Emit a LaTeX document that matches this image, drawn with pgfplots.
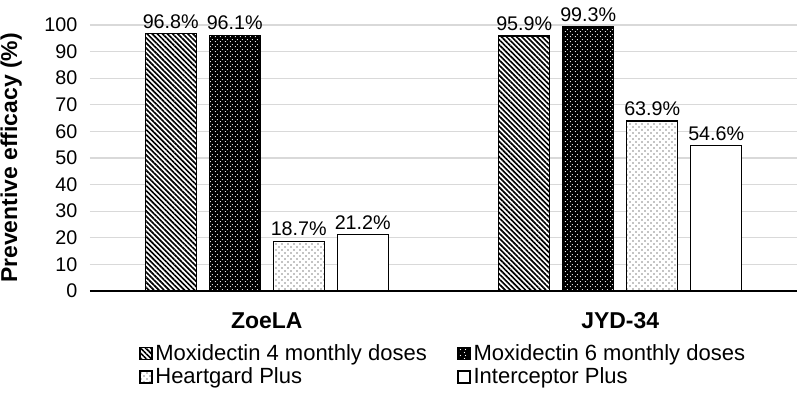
\documentclass[border=0pt]{standalone}
\usepackage{fontspec}
\setmainfont{Liberation Sans}
\usepackage{pgfplots}
\pgfplotsset{compat=1.18}
\usetikzlibrary{patterns.meta}

\newcommand{\tickfont}{\fontsize{14.8}{17}\selectfont}
\newcommand{\bigfont}{\fontsize{16.5}{19}\selectfont}
\newcommand{\labfont}{\fontsize{17.2}{20}\selectfont}

\begin{document}
\begin{tikzpicture}
\begin{axis}[
  scale only axis,
  width=530.25pt, height=199.5pt,
  ybar=9.75pt, bar width=38.25pt,
  xmin=-0.5, xmax=1.5,
  ymin=0, ymax=100,
  xtick={0,1}, xticklabels={ZoeLA, JYD-34},
  ytick={0,10,...,100},
  axis x line*=bottom, axis y line*=left,
  y axis line style={draw=none},
  x axis line style={black, line width=0.9pt, -},
  major tick length=0pt,
  ymajorgrids,
  grid style={color=black!15, line width=0.9pt},
  /pgf/number format/assume math mode=true,
  yticklabel style={font=\tickfont, xshift=-6pt},
  xticklabel style={font=\labfont\bfseries, yshift=-12.75pt},
  ylabel={Preventive efficacy (\%)},
  ylabel style={font=\labfont\bfseries},
  ylabel shift=10pt,
  nodes near coords={\pgfmathprintnumber[fixed,precision=1,fixed zerofill]{\pgfplotspointmeta}\%},
  nodes near coords style={font=\tickfont, black},
  legend columns=2,
  legend cell align=left,
  legend style={at={(0.5,0)}, anchor=north, yshift=-36pt, draw=none, font=\bigfont,
    /tikz/every even column/.append style={column sep=21pt}},
  legend image code/.code={\draw[#1] (0pt,-4.5pt) rectangle (9pt,4.5pt);},
  clip=false,
]
\addplot[draw=black, line width=1.1pt, fill=white,
  postaction={pattern={Lines[angle=-45, distance=2.7pt, line width=1.25pt]}, pattern color=black}]
  coordinates {(0,96.8) (1,95.9)};
\addplot[draw=black, line width=1.1pt, fill=black,
  postaction={pattern={Dots[distance=4pt, radius=0.5pt]}, pattern color=white},
  postaction={pattern={Dots[distance=4pt, radius=0.5pt, xshift=2pt, yshift=2pt]}, pattern color=white}]
  coordinates {(0,96.1) (1,99.3)};
\addplot[draw=black, line width=1.1pt, fill=white,
  postaction={pattern={Dots[distance=4.5pt, radius=0.45pt]}, pattern color=black},
  postaction={pattern={Dots[distance=4.5pt, radius=0.45pt, xshift=2.25pt, yshift=2.25pt]}, pattern color=black}]
  coordinates {(0,18.7) (1,63.9)};
\addplot[draw=black, line width=1.1pt, fill=white]
  coordinates {(0,21.2) (1,54.6)};
\legend{Moxidectin 4 monthly doses, Moxidectin 6 monthly doses, Heartgard Plus, Interceptor Plus}
\end{axis}
\pgfresetboundingbox
\path[use as bounding box] ([xshift=-67.5pt,yshift=-86.25pt]current axis.south west) rectangle ([yshift=18.75pt]current axis.north east);
\end{tikzpicture}
\end{document}
